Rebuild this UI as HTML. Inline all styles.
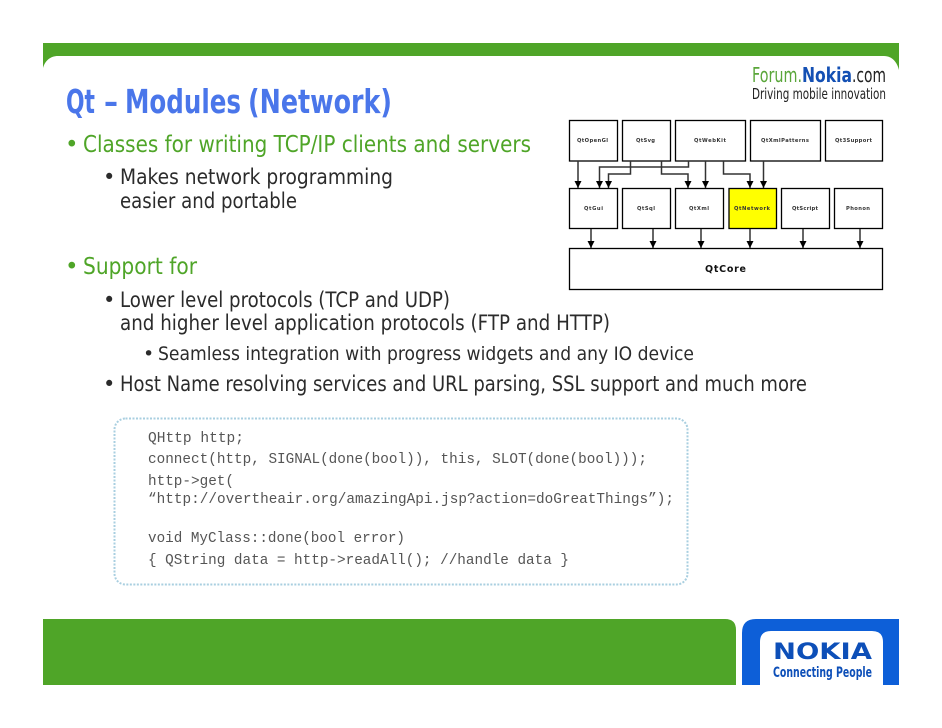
<!DOCTYPE html>
<html><head><meta charset="utf-8"><style>
html,body{margin:0;padding:0;background:#fff;width:942px;height:728px;overflow:hidden}
svg{display:block}
.g{fill:#4fa528;font-family:"DejaVu Sans",sans-serif;font-size:23px}
.d{fill:#2b2b2b;font-family:"DejaVu Sans",sans-serif;font-size:21px}
.e{fill:#2b2b2b;font-family:"DejaVu Sans",sans-serif;font-size:19px}
.c{fill:#555;font-family:"Liberation Mono",monospace;font-size:14.3px}
.l{fill:#333;font-family:"DejaVu Sans",sans-serif;font-size:5.2px;font-weight:bold}
.b{fill:#fff;stroke:#000;stroke-width:1.3}
.a{fill:none;stroke:#333;stroke-width:1.5}
.t{font-family:"DejaVu Sans",sans-serif;font-weight:bold;font-size:33px;fill:#4a76ea}
</style></head><body>
<svg width="942" height="728" viewBox="0 0 942 728" xmlns="http://www.w3.org/2000/svg">
<defs><marker id="h" markerUnits="userSpaceOnUse" markerWidth="8" markerHeight="8" refX="7" refY="4" orient="auto"><path d="M0 0.5L7 4L0 7.5Z" fill="#000"/></marker></defs>
<rect width="942" height="728" fill="#fff"/>
<path d="M43 43H899V70C897 62 892 56 884 56H58C50 56 45 61 43 68Z" fill="#4fa528"/>
<path d="M43 619H725Q736 619 736 630V685H43Z" fill="#4fa528"/>
<path d="M899 619H756Q742 619 742 633V685H760V642Q760 631 771 631H872Q883 631 883 642V685H899Z" fill="#0d5fd8"/>

<text class="t" x="66" y="113" textLength="29" lengthAdjust="spacingAndGlyphs">Qt</text>
<text class="t" x="104" y="113" textLength="14" lengthAdjust="spacingAndGlyphs">–</text>
<text class="t" x="125" y="113" textLength="116" lengthAdjust="spacingAndGlyphs">Modules</text>
<text class="t" x="248" y="113" textLength="144" lengthAdjust="spacingAndGlyphs">(Network)</text>

<text x="752" y="82" textLength="50" lengthAdjust="spacingAndGlyphs" style="font-family:'DejaVu Sans',sans-serif;font-size:20px;fill:#5aa63a">Forum.</text>
<text x="802" y="82" textLength="50" lengthAdjust="spacingAndGlyphs" style="font-family:'DejaVu Sans',sans-serif;font-size:20px;font-weight:bold;fill:#1450b4">Nokia</text>
<text x="852" y="82" textLength="34" lengthAdjust="spacingAndGlyphs" style="font-family:'DejaVu Sans',sans-serif;font-size:20px;fill:#222">.com</text>
<text x="752" y="99" textLength="134" lengthAdjust="spacingAndGlyphs" style="font-family:'DejaVu Sans',sans-serif;font-size:15px;fill:#222">Driving mobile innovation</text>

<text class="g" x="65" y="152">•</text>
<text class="g" x="83" y="152" textLength="448" lengthAdjust="spacingAndGlyphs">Classes for writing TCP/IP clients and servers</text>
<text class="d" x="103" y="184">•</text>
<text class="d" x="120" y="184" textLength="273" lengthAdjust="spacingAndGlyphs">Makes network programming</text>
<text class="d" x="120" y="208" textLength="177" lengthAdjust="spacingAndGlyphs">easier and portable</text>
<text class="g" x="65" y="274">•</text>
<text class="g" x="83" y="274" textLength="114" lengthAdjust="spacingAndGlyphs">Support for</text>
<text class="d" x="103" y="307">•</text>
<text class="d" x="120" y="307" textLength="330" lengthAdjust="spacingAndGlyphs">Lower level protocols (TCP and UDP)</text>
<text class="d" x="120" y="330" textLength="490" lengthAdjust="spacingAndGlyphs">and higher level application protocols (FTP and HTTP)</text>
<text class="e" x="143" y="360">•</text>
<text class="e" x="158" y="360" textLength="536" lengthAdjust="spacingAndGlyphs">Seamless integration with progress widgets and any IO device</text>
<text class="d" x="103" y="391">•</text>
<text class="d" x="120" y="391" textLength="687" lengthAdjust="spacingAndGlyphs">Host Name resolving services and URL parsing, SSL support and much more</text>

<rect x="114.5" y="418.5" width="573" height="166" rx="11" fill="none" stroke="#a9cfe0" stroke-width="2" stroke-dasharray="2 1.5"/>
<text class="c" x="148" y="442" textLength="96" lengthAdjust="spacingAndGlyphs">QHttp http;</text>
<text class="c" x="148" y="463" textLength="499" lengthAdjust="spacingAndGlyphs">connect(http, SIGNAL(done(bool)), this, SLOT(done(bool)));</text>
<text class="c" x="148" y="485" textLength="86" lengthAdjust="spacingAndGlyphs">http-&gt;get(</text>
<text class="c" x="148" y="503" textLength="526" lengthAdjust="spacingAndGlyphs">“http://overtheair.org/amazingApi.jsp?action=doGreatThings”);</text>
<text class="c" x="148" y="542" textLength="257" lengthAdjust="spacingAndGlyphs">void MyClass::done(bool error)</text>
<text class="c" x="148" y="564" textLength="421" lengthAdjust="spacingAndGlyphs">{ QString data = http-&gt;readAll(); //handle data }</text>

<rect class="b" x="569.5" y="120.5" width="48" height="40.5"/>
<rect class="b" x="622.5" y="120.5" width="48" height="40.5"/>
<rect class="b" x="675.5" y="120.5" width="70" height="40.5"/>
<rect class="b" x="750.5" y="120.5" width="70" height="40.5"/>
<rect class="b" x="825.5" y="120.5" width="57" height="40.5"/>
<rect class="b" x="569.5" y="188.5" width="48" height="40"/>
<rect class="b" x="622.5" y="188.5" width="48" height="40"/>
<rect class="b" x="675.5" y="188.5" width="48" height="40"/>
<rect x="729" y="188.5" width="47.5" height="40" fill="#ffff00" stroke="#000" stroke-width="1.3"/>
<rect class="b" x="781.5" y="188.5" width="48" height="40"/>
<rect class="b" x="834.5" y="188.5" width="48" height="40"/>
<rect class="b" x="569.5" y="248.5" width="313" height="41"/>

<path class="a" marker-end="url(#h)" d="M578 161V188"/>
<path class="a" marker-end="url(#h)" d="M688.5 161V167H599.5V188"/>
<path class="a" marker-end="url(#h)" d="M630.5 161V174H608.5V188"/>
<path class="a" marker-end="url(#h)" d="M661.5 161V174H688V188"/>
<path class="a" marker-end="url(#h)" d="M705.5 161V188"/>
<path class="a" marker-end="url(#h)" d="M723.5 161V174H750V188"/>
<path class="a" marker-end="url(#h)" d="M763.5 161V188"/>
<path class="a" marker-end="url(#h)" d="M591 229V248"/>
<path class="a" marker-end="url(#h)" d="M653 229V248"/>
<path class="a" marker-end="url(#h)" d="M701 229V248"/>
<path class="a" marker-end="url(#h)" d="M750 229V248"/>
<path class="a" marker-end="url(#h)" d="M803 229V248"/>
<path class="a" marker-end="url(#h)" d="M860 229V248"/>

<text class="l" x="577" y="142" textLength="31" lengthAdjust="spacing">QtOpenGl</text>
<text class="l" x="636" y="142" textLength="19" lengthAdjust="spacing">QtSvg</text>
<text class="l" x="694" y="142" textLength="32" lengthAdjust="spacing">QtWebKit</text>
<text class="l" x="761" y="142" textLength="48" lengthAdjust="spacing">QtXmlPatterns</text>
<text class="l" x="835" y="142" textLength="37" lengthAdjust="spacing">Qt3Support</text>
<text class="l" x="584" y="210" textLength="19" lengthAdjust="spacing">QtGui</text>
<text class="l" x="637" y="210" textLength="18" lengthAdjust="spacing">QtSql</text>
<text class="l" x="689" y="210" textLength="20" lengthAdjust="spacing">QtXml</text>
<text class="l" x="734" y="210" textLength="36" lengthAdjust="spacing">QtNetwork</text>
<text class="l" x="792" y="210" textLength="26" lengthAdjust="spacing">QtScript</text>
<text class="l" x="846" y="210" textLength="24" lengthAdjust="spacing">Phonon</text>
<text x="705" y="272" textLength="41" lengthAdjust="spacing" style="font-family:'DejaVu Sans',sans-serif;font-weight:bold;font-size:9.5px;fill:#111">QtCore</text>

<text x="773" y="659" textLength="99" lengthAdjust="spacingAndGlyphs" style="font-family:'DejaVu Sans',sans-serif;font-weight:bold;font-size:22px;fill:#0d4fb8">NOKIA</text>
<text x="773" y="677" textLength="99" lengthAdjust="spacingAndGlyphs" style="font-family:'DejaVu Sans',sans-serif;font-weight:bold;font-size:14px;fill:#0d4fb8">Connecting People</text>
</svg>
</body></html>
